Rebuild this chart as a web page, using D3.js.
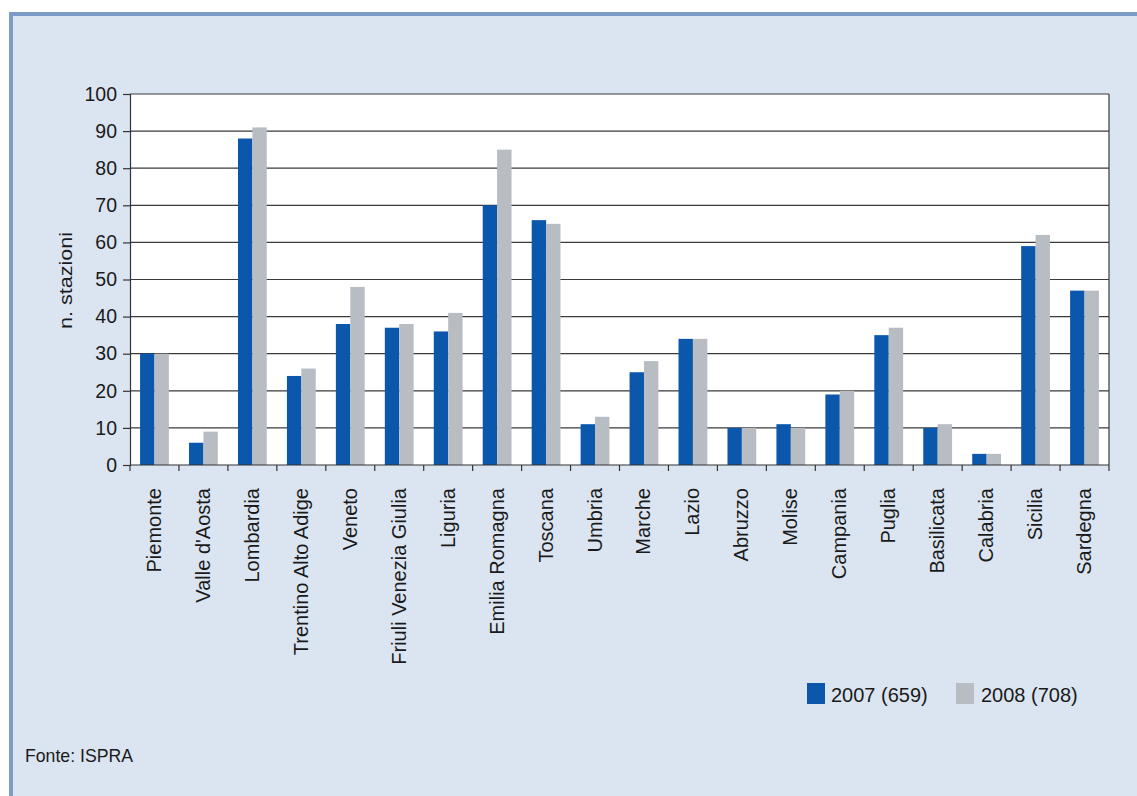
<!DOCTYPE html>
<html><head><meta charset="utf-8">
<script src="https://cdn.jsdelivr.net/npm/d3@7/dist/d3.min.js"></script>
<style>
html,body{margin:0;padding:0;background:#fff;}
svg{display:block;}
text{font-family:"Liberation Sans Narrow","Arial Narrow","Liberation Sans",Arial,sans-serif;fill:#1a1a1a;}
</style></head><body>
<svg id="chart" width="1137" height="796"></svg>
<script>
const categories = ["Piemonte","Valle d'Aosta","Lombardia","Trentino Alto Adige","Veneto","Friuli Venezia Giulia","Liguria","Emilia Romagna","Toscana","Umbria","Marche","Lazio","Abruzzo","Molise","Campania","Puglia","Basilicata","Calabria","Sicilia","Sardegna"];
const values2007 = [30,6,88,24,38,37,36,70,66,11,25,34,10,11,19,35,10,3,59,47];
const values2008 = [30,9,91,26,48,38,41,85,65,13,28,34,10,10,20,37,11,3,62,47];
const seriesNames = ["2007 (659)","2008 (708)"];
const yTicks = [0,10,20,30,40,50,60,70,80,90,100];

const svg = d3.select("#chart");
svg.append("rect").attr("x",0).attr("y",0).attr("width",1137).attr("height",796).attr("fill","#ffffff");
svg.append("rect").attr("x",11).attr("y",14).attr("width",1140).attr("height",800)
  .attr("fill","#dbe5f1").attr("stroke","#7c9cc7").attr("stroke-width",4);

const m = {left:130, right:1109, top:94, bottom:465};
const x = d3.scaleBand().domain(categories).range([m.left,m.right]).paddingInner(0).paddingOuter(0);
const y = d3.scaleLinear().domain([0,100]).range([m.bottom,m.top]);
const barW = 14.4;
const colors = ["#0a57ab","#b8bcc3"];

svg.append("rect").attr("x",m.left).attr("y",m.top).attr("width",m.right-m.left).attr("height",m.bottom-m.top).attr("fill","#ffffff");

svg.append("g").selectAll("line").data(yTicks.filter(d=>d>0)).join("line")
  .attr("x1",m.left).attr("x2",m.right).attr("y1",d=>y(d)).attr("y2",d=>y(d))
  .attr("stroke","#3a3a3a").attr("stroke-width",1.2);
svg.append("line").attr("x1",m.right).attr("x2",m.right).attr("y1",m.top).attr("y2",m.bottom).attr("stroke","#3a3a3a").attr("stroke-width",1.2);

const series = [values2007, values2008];
series.forEach((vals,si)=>{
  svg.append("g").selectAll("rect").data(categories).join("rect")
    .attr("x",(d)=>x(d)+x.bandwidth()/2 - barW + si*barW)
    .attr("width",barW)
    .attr("y",(d,i)=>y(vals[i]))
    .attr("height",(d,i)=>y(0)-y(vals[i]))
    .attr("fill",colors[si]);
});

const yAxis = svg.append("g").attr("transform",`translate(${m.left},0)`)
  .call(d3.axisLeft(y).tickValues(yTicks).tickSize(7).tickPadding(6));
yAxis.select(".domain").attr("stroke","#333").attr("stroke-width",1.2);
yAxis.selectAll(".tick line").attr("stroke","#333").attr("stroke-width",1.2);
yAxis.selectAll("text").style("font-size","19.5px").attr("fill","#1a1a1a");

const bounds = categories.map(c=>x(c)).concat([m.right]);
svg.append("line").attr("x1",m.left).attr("x2",m.right).attr("y1",m.bottom).attr("y2",m.bottom).attr("stroke","#333").attr("stroke-width",1.2);
svg.append("g").selectAll("line").data(bounds).join("line")
  .attr("x1",d=>d).attr("x2",d=>d).attr("y1",m.bottom).attr("y2",m.bottom+6)
  .attr("stroke","#333").attr("stroke-width",1.2);
svg.append("g").selectAll("text").data(categories).join("text")
  .attr("transform",d=>`translate(${x(d)+x.bandwidth()/2+6.5},${m.bottom+23}) rotate(-90)`)
  .attr("text-anchor","end")
  .style("font-size","20px")
  .text(d=>d);

svg.append("text").attr("transform",`translate(72,${(m.top+m.bottom)/2+1}) rotate(-90)`)
  .attr("text-anchor","middle").style("font-size","18px").attr("textLength",97).attr("lengthAdjust","spacingAndGlyphs").text("n. stazioni");

const lg = [{x:807,tx:831,name:seriesNames[0],c:colors[0]},{x:956,tx:981,name:seriesNames[1],c:colors[1]}];
lg.forEach(l=>{
  svg.append("rect").attr("x",l.x).attr("y",683).attr("width",18).attr("height",21).attr("fill",l.c);
  svg.append("text").attr("x",l.tx).attr("y",702).style("font-size",  "20px").text(l.name);
});

svg.append("text").attr("x",25).attr("y",762).style("font-size","19px").attr("textLength",108).attr("lengthAdjust","spacingAndGlyphs").text("Fonte: ISPRA");
</script>
</body></html>
